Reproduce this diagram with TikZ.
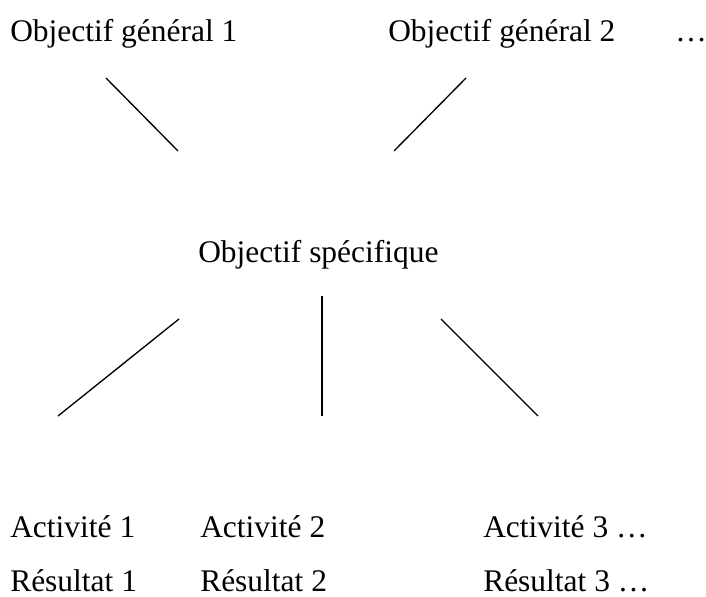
\documentclass[tikz,border=0pt]{standalone}
\usepackage{fontspec}
\setmainfont{Liberation Serif}
\tikzset{
  lbl/.style={anchor=base west, inner sep=0pt, font=\fontsize{23.6}{28}\selectfont},
  trait/.style={line width=1pt, color=black}
}
\begin{document}
\begin{tikzpicture}[x=0.75pt,y=0.75pt,yscale=-1,xscale=1]
\useasboundingbox (0,0) rectangle (706,596);
% Text Node
\node[lbl] (obgen1) at (10,41) {Objectif général 1};
% Text Node
\node[lbl] (obgen2) at (388,41) {Objectif général 2};
% Text Node
\node[lbl] (obsuite) at (675,41) {…};
% Text Node
\node[lbl] (obspec) at (198,262) {Objectif spécifique};
% Text Node
\node[lbl] (act1) at (10,537) {Activité 1};
\node[lbl] (act2) at (200,537) {Activité 2};
\node[lbl] (act3) at (483,537) {Activité 3 …};
% Text Node
\node[lbl, text depth=0pt] (res1) at (10,591) {Résultat 1};
\node[lbl, text depth=0pt] (res2) at (200,591) {Résultat 2};
\node[lbl, text depth=0pt] (res3) at (483,591) {Résultat 3 …};
%Straight Lines
\coordinate (g1a) at (106,78);
\coordinate (g1b) at (178,151);
\coordinate (g2a) at (466,78);
\coordinate (g2b) at (394,151);
\draw[trait] (g1a) -- (g1b);
\draw[trait] (g2a) -- (g2b);
%Straight Lines
\coordinate (s1a) at (179,319);
\coordinate (s1b) at (58,416);
\coordinate (s2a) at (322,296);
\coordinate (s2b) at (322,416);
\coordinate (s3a) at (441,319);
\coordinate (s3b) at (538,416);
\draw[trait] (s1a) -- (s1b);
\draw[trait] (s2a) -- (s2b);
\draw[trait] (s3a) -- (s3b);
\end{tikzpicture}
\end{document}
